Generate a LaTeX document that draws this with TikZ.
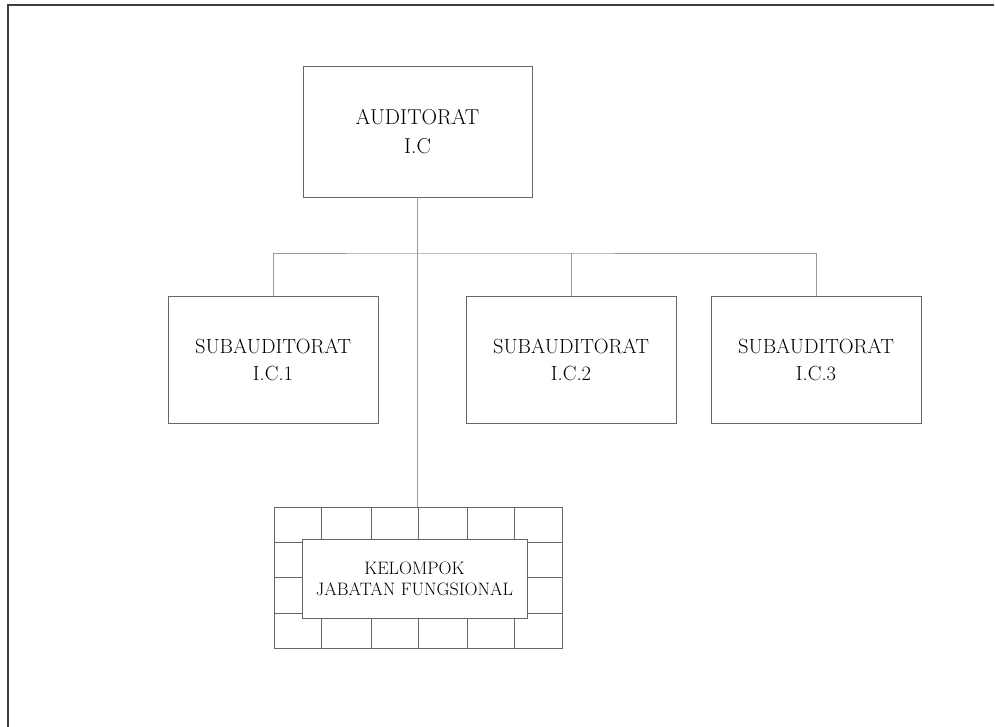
\documentclass[tikz,border=0pt]{standalone}
\usepackage{fontspec}
\usepackage{tikz}
\usetikzlibrary{calc}

\begin{document}
\begin{tikzpicture}[x=1pt, y=-1pt,
    unit/.style={draw=black!60, line width=0.9pt, inner sep=0pt, align=center},
    link/.style={draw=black!40, line width=0.9pt}]
  \def\subw{210pt}
  \def\subh{127pt}
  \def\suby{359.5}
  \def\busy{253}

  \useasboundingbox (0,0) rectangle (995,727);
  \draw[black!75, line width=1.3pt] (994,5) -- (8,5) -- (8,727);

  \node[unit, minimum width=229pt, minimum height=131pt,
        font=\fontsize{21.5}{29}\selectfont] (ic) at (417.5,131.5) {AUDITORAT\\I.C};

  \node[unit, minimum width=\subw, minimum height=\subh,
        font=\fontsize{20.5}{27}\selectfont] (ic1) at (273,\suby) {SUBAUDITORAT\\I.C.1};
  \node[unit, minimum width=\subw, minimum height=\subh,
        font=\fontsize{20.5}{27}\selectfont] (ic2) at (571,\suby) {SUBAUDITORAT\\I.C.2};
  \node[unit, minimum width=\subw, minimum height=\subh,
        font=\fontsize{20.5}{27}\selectfont] (ic3) at (816,\suby) {SUBAUDITORAT\\I.C.3};

  \node[unit, minimum width=288pt, minimum height=141pt] (brick) at (418,577.5) {};
  \foreach \x in {321,371,418,467,514}
    \draw[black!60, line width=0.9pt] (\x,507) -- (\x,648);
  \foreach \y in {542,577,613}
    \draw[black!60, line width=0.9pt] (274,\y) -- (562,\y);
  \node[unit, fill=white, minimum width=225pt, minimum height=79pt,
        font=\fontsize{18}{21}\selectfont] (kjf) at (414.5,578.5) {KELOMPOK\\JABATAN FUNGSIONAL};

  \coordinate (bus) at (417.5,\busy);

  \draw[link] (ic.south) -- (ic.south |- brick.north);
  \draw[link] (ic1.north) |- (bus) -| (ic3.north);
  \draw[link] (ic2.north) -- (ic2.north |- bus);
\end{tikzpicture}
\end{document}
